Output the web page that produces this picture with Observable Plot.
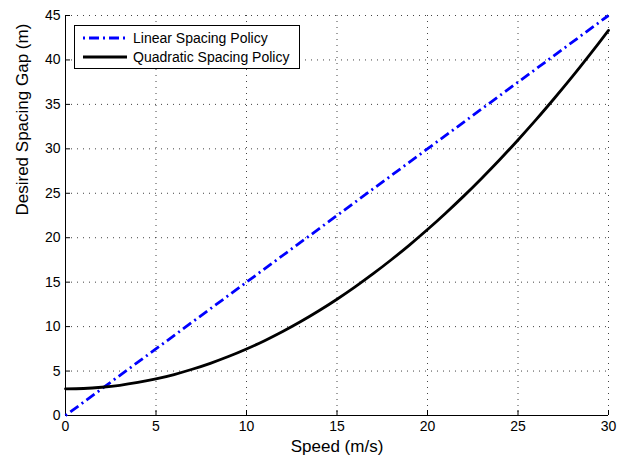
<!DOCTYPE html>
<html><head><meta charset="utf-8">
<script src="https://cdn.jsdelivr.net/npm/d3@7"></script>
<script src="https://cdn.jsdelivr.net/npm/@observablehq/plot@0.6"></script>
<style>
body{margin:0;background:#fff}
#wrap{position:relative;width:628px;height:457px;font-family:"Liberation Sans",Arial,sans-serif}
#legend{position:absolute;left:74px;top:25px}
</style>
</head><body><div id="wrap"></div>
<script>
const speed = [0,1,2,3,4,5,6,7,8,9,10,11,12,13,14,15,16,17,18,19,20,21,22,23,24,25,26,27,28,29,30];
const quadraticGap = [3.00,3.04,3.18,3.40,3.72,4.12,4.61,5.20,5.87,6.63,7.48,8.42,9.45,10.57,11.78,13.08,14.47,15.95,17.52,19.17,20.92,22.76,24.68,26.70,28.80,31.00,33.28,35.66,38.12,40.68,43.32];
const linearSpeed = [0, 30];
const linearGap = [0, 45];
const xTicks = [0,5,10,15,20,25,30];
const yTicks = [0,5,10,15,20,25,30,35,40,45];
const seriesNames = ["Linear Spacing Policy", "Quadratic Spacing Policy"];
const xLabel = "Speed (m/s)";
const yLabel = "Desired Spacing Gap (m)";

const quad = speed.map((s, i) => ({speed: s, gap: quadraticGap[i]}));
const lin = linearSpeed.map((s, i) => ({speed: s, gap: linearGap[i]}));
const font = "Liberation Sans, Arial, sans-serif";
const gridStyle = {stroke: "#222", strokeWidth: 1, strokeDasharray: "1,5", strokeOpacity: 0.85};

const chart = Plot.plot({
  width: 628, height: 457,
  marginLeft: 65, marginRight: 20, marginTop: 15, marginBottom: 42,
  style: {fontFamily: font, fontSize: "14px", color: "#000", background: "#fff"},
  x: {domain: [0, 30]},
  y: {domain: [0, 45]},
  marks: [
    Plot.ruleX(xTicks.filter(d => d > 0), {x: d => d, ...gridStyle}),
    Plot.ruleY(yTicks.filter(d => d > 0), {y: d => d, ...gridStyle}),
    Plot.axisX({ticks: xTicks, tickSize: 0, tickPadding: 6, fontSize: 14, label: null}),
    Plot.axisY({ticks: yTicks, tickSize: 0, tickPadding: 5, fontSize: 14, label: null}),
    Plot.ruleX(xTicks, {x: d => d, y1: 0, y2: 0, insetTop: -5, stroke: "#000"}),
    Plot.ruleY(yTicks, {y: d => d, x1: 0, x2: 0, insetRight: -5, stroke: "#000"}),
    Plot.ruleX([0], {stroke: "#000"}),
    Plot.ruleY([0], {stroke: "#000"}),
    Plot.line(lin, {x: "speed", y: "gap", stroke: "#0000ff", strokeWidth: 2.8, strokeDasharray: "2,4,10,4", strokeLinecap: "butt"}),
    Plot.line(quad, {x: "speed", y: "gap", stroke: "#000", strokeWidth: 2.8, curve: "catmull-rom"}),
    Plot.text([xLabel], {frameAnchor: "bottom", dy: 36, fontSize: 17, text: d => d}),
    Plot.text([yLabel], {frameAnchor: "left", dx: -43, rotate: -90, fontSize: 17, text: d => d})
  ]
});
document.getElementById("wrap").appendChild(chart);

// legend overlay
const lg = d3.select("#wrap").append("svg").attr("id", "legend")
  .attr("width", 226).attr("height", 44)
  .style("font-family", font);
lg.append("rect").attr("x", 0.5).attr("y", 0.5).attr("width", 225).attr("height", 43)
  .attr("fill", "#fff").attr("stroke", "#000").attr("stroke-width", 1);
const legendStyles = [
  {stroke: "#0000ff", dash: "2,4,10,4"},
  {stroke: "#000", dash: null}
];
seriesNames.forEach((name, i) => {
  const cy = 13 + i * 19;
  lg.append("line").attr("x1", 9).attr("x2", 53).attr("y1", cy).attr("y2", cy)
    .attr("stroke", legendStyles[i].stroke).attr("stroke-width", 2.8)
    .attr("stroke-dasharray", legendStyles[i].dash);
  lg.append("text").attr("x", 59).attr("y", cy).attr("dy", "0.35em")
    .attr("font-size", 14).attr("fill", "#000").text(name);
});
</script>
</body></html>
